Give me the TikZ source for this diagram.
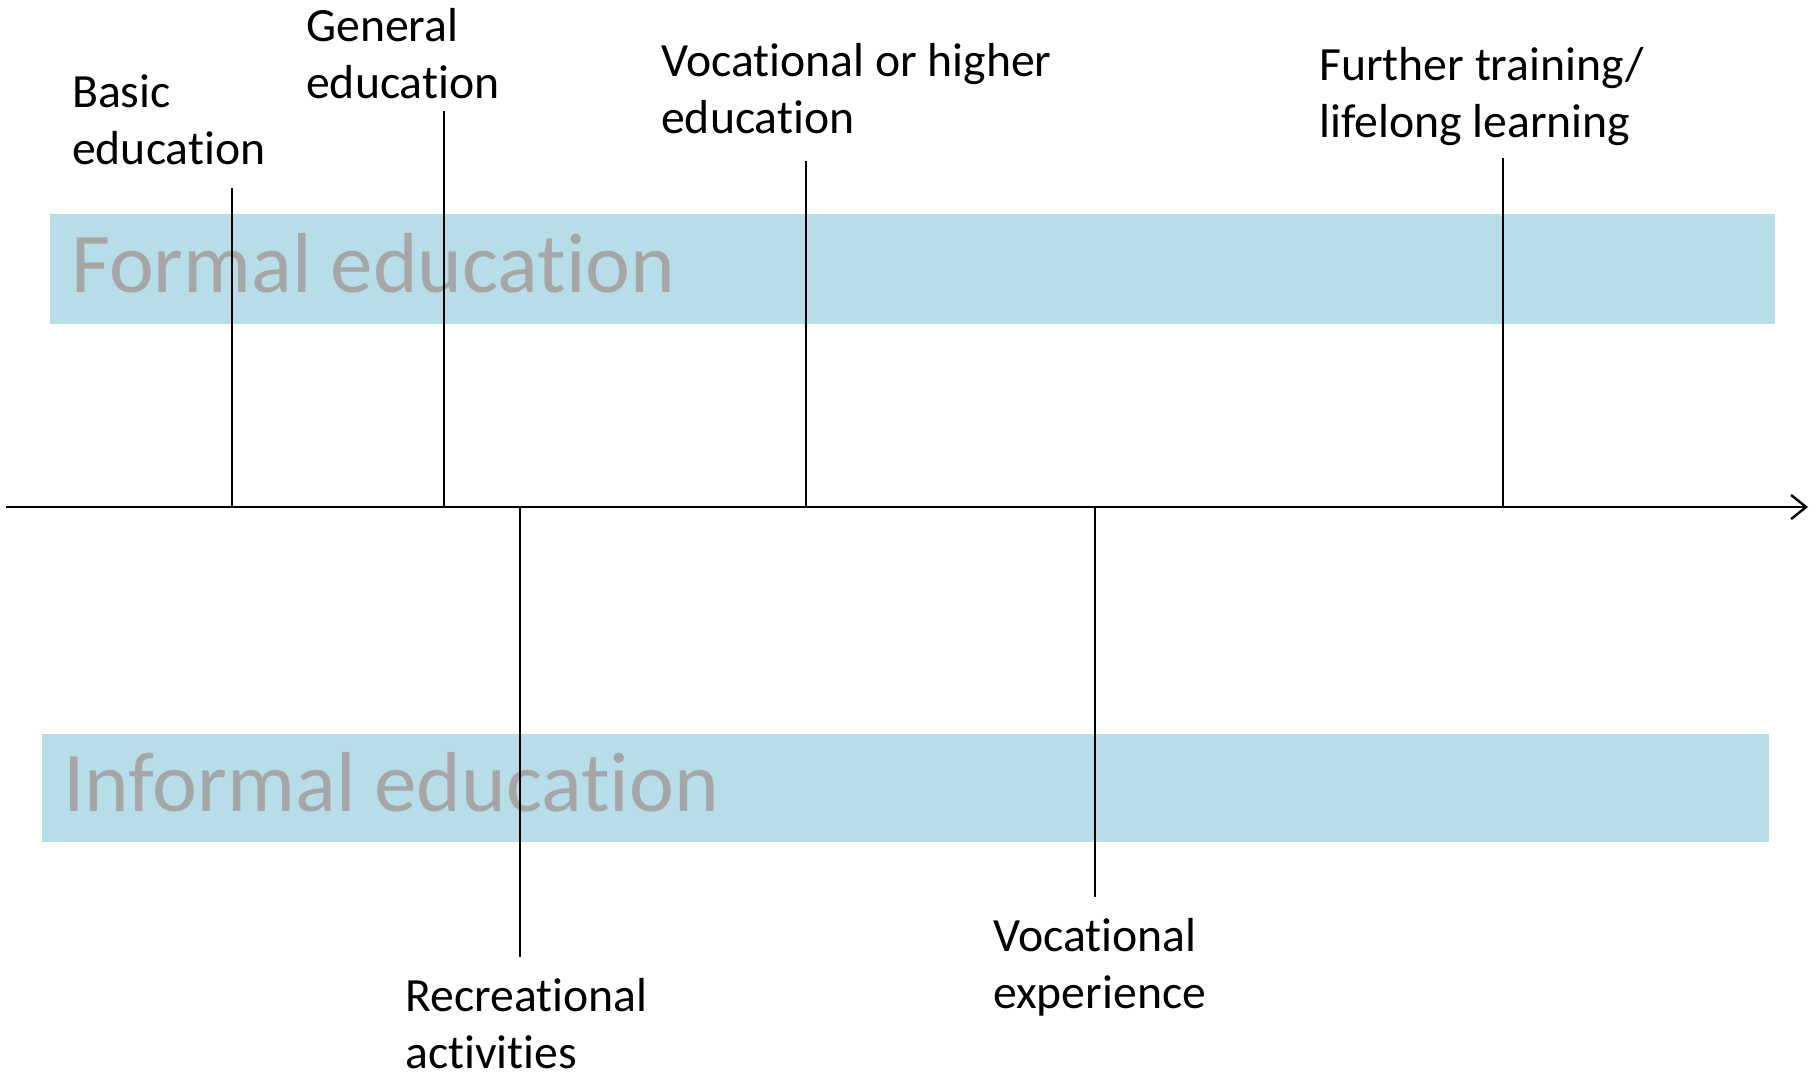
\documentclass[tikz,border=0pt]{standalone}
\usepackage{fontspec}
\setmainfont{Carlito}[Ligatures={NoCommon,NoContextual}]
\usetikzlibrary{arrows.meta}
\definecolor{bandblue}{HTML}{B7DDE8}
\definecolor{bandgray}{HTML}{A6A6A6}
\tikzset{
  band/.style={fill=bandblue, draw=none, inner sep=0pt, outer sep=0pt},
  bandtext/.style={text=bandgray, font=\fontsize{85}{100}\selectfont, inner sep=0pt, anchor=base west},
  lbl/.style={font=\fontsize{47.7}{57}\selectfont, inner sep=0pt, anchor=base west, align=left},
  tick/.style={line width=1.6pt, black},
  axisline/.style={line width=2.8pt, black, -{Straight Barb[length=15pt,width=24pt,line width=2.4pt]}}
}
\begin{document}
\begin{tikzpicture}[x=1pt,y=-1pt]
\path[use as bounding box] (0,0) rectangle (1816,1077);
% bands
\path[band] (50,214) rectangle (1775,324);
\path[band] (42,734) rectangle (1769,842);
\node[bandtext] (formal) at (71,292) {Formal education};
\node[bandtext] (informal) at (63,811) {Informal education};
% labels (anchor = baseline of last line)
\node[lbl] (basic) at (72,164) {Basic\\education};
\node[lbl] (general) at (306,98) {General\\education};
\node[lbl] (voc) at (661,133) {Vocational or higher\\education};
\node[lbl] (further) at (1319,137) {Further training/\\lifelong learning};
\node[lbl] (recr) at (405,1068) {Recreational\\activities};
\node[lbl] (vocexp) at (993,1008) {Vocational\\experience};
% axis
\coordinate (axL) at (6,507);
\coordinate (axR) at (1808,507);
% tick coordinates
\coordinate (bT) at (232,188);  \coordinate (bA) at (232,507);
\coordinate (gT) at (444,111);  \coordinate (gA) at (444,507);
\coordinate (vT) at (806,161);  \coordinate (vA) at (806,507);
\coordinate (fT) at (1503,158); \coordinate (fA) at (1503,507);
\coordinate (rB) at (520,957);  \coordinate (rA) at (520,507);
\coordinate (eB) at (1095,897); \coordinate (eA) at (1095,507);
\draw[tick] (bT) -- (bA);
\draw[tick] (gT) -- (gA);
\draw[tick] (vT) -- (vA);
\draw[tick] (fT) -- (fA);
\draw[tick] (rA) -- (rB);
\draw[tick] (eA) -- (eB);
\draw[axisline] (axL) -- (axR);
\end{tikzpicture}
\end{document}
